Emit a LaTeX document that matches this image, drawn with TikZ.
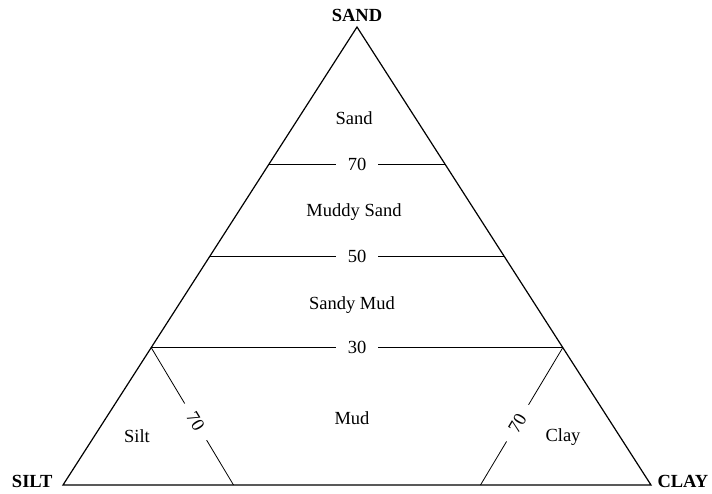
\documentclass[tikz,border=0pt]{standalone}
\usepackage{fontspec}
\setmainfont{Liberation Serif}
\usetikzlibrary{calc}

\begin{document}
\begin{tikzpicture}[x=1pt, y=-1pt, font=\fontsize{18.5}{22}\selectfont,
    gap/.style={fill=white, inner xsep=12pt, inner ysep=1pt}]
  \useasboundingbox (0, 0) rectangle (712, 493);
  \coordinate (sand) at (357, 27);
  \coordinate (silt) at (63, 485);
  \coordinate (clay) at (651, 485);
  \draw [line width=1.2pt] (silt) -- (sand) -- (clay) -- cycle;

  % class boundaries
  \draw [line width=0.8pt] ($(sand)!0.3!(silt)$) -- ($(sand)!0.3!(clay)$) node [gap, midway] (p70) {70};
  \draw [line width=0.8pt] ($(sand)!0.5!(silt)$) -- ($(sand)!0.5!(clay)$) node [gap, midway] (p50) {50};
  \draw [line width=0.8pt] ($(sand)!0.7!(silt)$) -- ($(sand)!0.7!(clay)$) node [gap, midway] (p30) {30};
  \draw [line width=0.8pt] ($(sand)!0.7!(silt)$) -- ($(silt)!0.29!(clay)$) node [gap, sloped, pos=0.54] (q70) {70};
  \draw [line width=0.8pt] ($(clay)!0.29!(silt)$) -- ($(sand)!0.7!(clay)$) node [gap, sloped, pos=0.45] (r70) {70};

  \node (tsand) at (357, 15) {\textbf{SAND}};
  \node [anchor=east] (tsilt) at (56, 481) {\textbf{SILT}};
  \node [anchor=west] (tclay) at (654, 481) {\textbf{CLAY}};

  \node (sandlab) at (354, 118) {Sand};
  \node (muddysand) at (354, 212) {Muddy Sand};
  \node (sandymud) at (352, 305) {Sandy Mud};
  \node (mud) at (352, 418) {Mud};
  \node (siltlab) at (137, 436) {Silt};
  \node (claylab) at (563, 437) {Clay};
\end{tikzpicture}
\end{document}
